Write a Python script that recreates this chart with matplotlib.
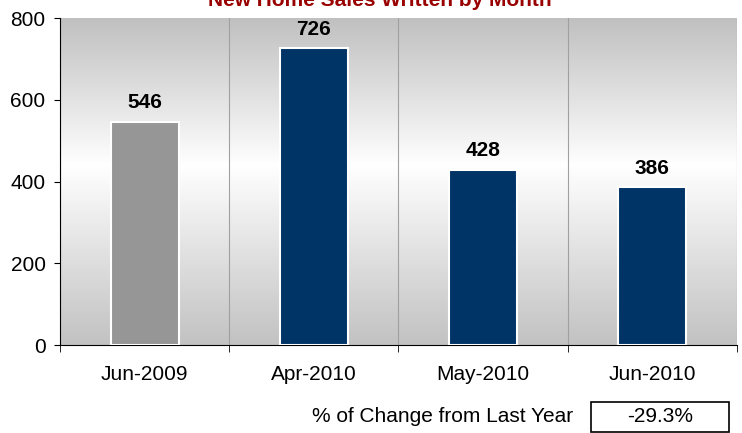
import numpy as np
import matplotlib.pyplot as plt
from matplotlib.colors import LinearSegmentedColormap
from matplotlib.patches import Rectangle

plt.rcParams['font.family'] = ['Liberation Sans', 'DejaVu Sans']

############################################
#                  DATA                    #
############################################

months = ['Jun-2009', 'Apr-2010', 'May-2010', 'Jun-2010']
sales = [546, 726, 428, 386]
bar_colors = ['#969696', '#003366', '#003366', '#003366']
change_label = '% of Change from Last Year'
change_value = '-29.3%'
title = 'New Home Sales Written by Month'

############################################
#                  PLOT                    #
############################################

fig = plt.figure(figsize=(7.42, 4.33), dpi=100)
ax = fig.add_axes([0.081, 0.203, 0.912, 0.755])

# gray-white-gray gradient background
cmap = LinearSegmentedColormap.from_list('bg', [(0, '#c2c2c2'), (0.55, '#ffffff'), (1, '#c0c0c0')])
grad = np.linspace(0, 1, 256).reshape(-1, 1)
ax.imshow(grad, cmap=cmap, aspect='auto', origin='lower', extent=[0, 1, 0, 1],
          transform=ax.transAxes, zorder=0)

x = np.arange(len(months))
bars = ax.bar(x, sales, width=0.4, color=bar_colors, edgecolor='white', linewidth=1.5, zorder=3)
for xi, v in zip(x, sales):
    ax.annotate(str(v), (xi, v), xytext=(0, 7), textcoords='offset points',
                ha='center', va='bottom', fontsize=15, fontweight='bold')

ax.set_xlim(-0.5, len(months) - 0.5)
ax.set_ylim(0, 800)
ax.set_yticks([0, 200, 400, 600, 800])
ax.set_xticks(x)
ax.set_xticklabels(months)
ax.set_xticks(np.arange(-0.5, len(months)), minor=True)
ax.tick_params(axis='x', which='major', length=0, pad=14, labelsize=15)
ax.tick_params(axis='x', which='minor', length=5, direction='out')
ax.tick_params(axis='y', length=4.5, direction='out', labelsize=15, pad=6)
ax.grid(True, which='minor', axis='x', color='#a0a0a0', linewidth=0.8, zorder=1)

for s in ['top', 'right']:
    ax.spines[s].set_visible(False)
ax.spines['left'].set_linewidth(0.8)
ax.spines['bottom'].set_linewidth(0.8)

fig.text(0.512, 1.0, title, ha='center', va='center', color='#990000',
         fontsize=15, fontweight='bold')

# change from last year box
fig.text(0.773, 0.037, change_label, ha='right', va='center', fontsize=15)
fig.patches.append(Rectangle((0.7965, 0.0023), 0.186, 0.069, transform=fig.transFigure,
                             facecolor='white', edgecolor='black', linewidth=1.2))
fig.text(0.8895, 0.037, change_value, ha='center', va='center', fontsize=15)

plt.savefig('out.png', dpi=100)
